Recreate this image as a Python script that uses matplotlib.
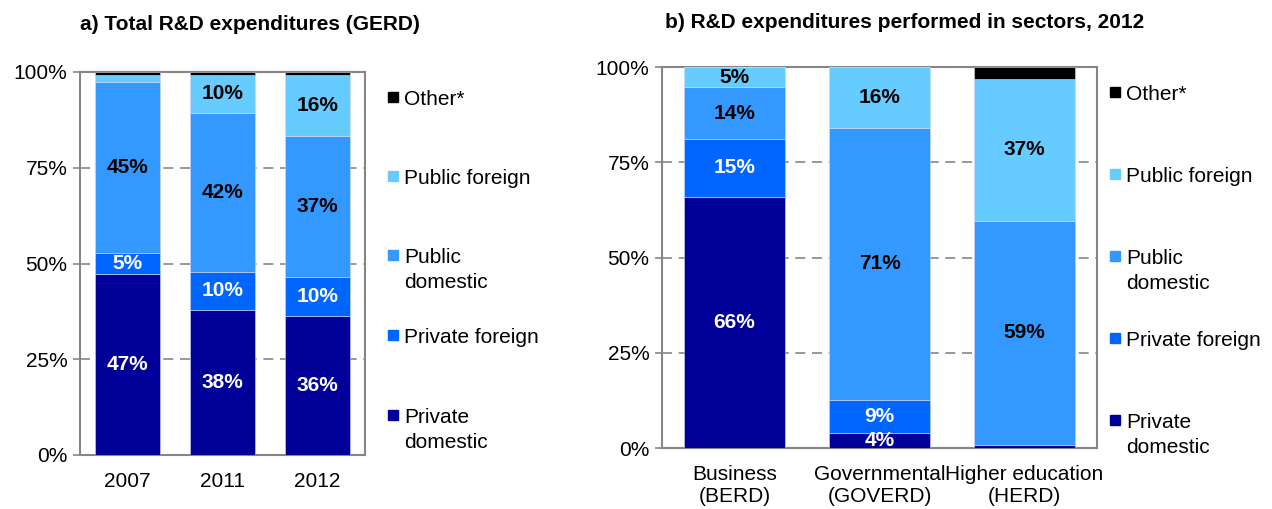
import matplotlib.pyplot as plt
from matplotlib.patches import Rectangle

plt.rcParams['font.family'] = ['Liberation Sans', 'DejaVu Sans']

# a) Total R&D expenditures (GERD), shares in %
years = ['2007', '2011', '2012']
gerd_priv_dom = [47.3, 37.9, 36.3]
gerd_priv_for = [5.4, 9.9, 10.2]
gerd_pub_dom = [44.6, 41.6, 36.7]
gerd_pub_for = [2.0, 9.8, 16.0]
gerd_other = [0.7, 0.8, 0.8]

# b) R&D expenditures performed in sectors, 2012
sectors = ['Business\n(BERD)', 'Governmental\n(GOVERD)', 'Higher education\n(HERD)']
sec_priv_dom = [65.9, 4.0, 0.7]
sec_priv_for = [15.2, 8.6, 0.0]
sec_pub_dom = [13.6, 71.4, 59.0]
sec_pub_for = [5.3, 16.0, 37.2]
sec_other = [0.0, 0.0, 3.1]

legend_names = ['Private\ndomestic', 'Private foreign', 'Public\ndomestic', 'Public foreign', 'Other*']
colors = ['#000099', '#0066ff', '#3399ff', '#66ccff', '#000000']
label_colors = ['white', 'white', 'black', 'black', None]

W, H = 1272, 509
FS = 15
fig = plt.figure(figsize=(W / 100, H / 100), dpi=100)


def px_axes(x0, y0, x1, y1):
    return fig.add_axes([x0 / W, 1 - y1 / H, (x1 - x0) / W, (y1 - y0) / H])


def stacked(ax, cats, series, width):
    x = range(len(cats))
    bottom = [0.0] * len(cats)
    for vals, col, lc in zip(series, colors, label_colors):
        ax.bar(x, vals, width, bottom=bottom, color=col, edgecolor='#d0d8f0',
               linewidth=0.4, zorder=3)
        if lc is not None:
            for i, v in enumerate(vals):
                if v >= 4:
                    ax.text(i, bottom[i] + v / 2, f'{v:.0f}%', ha='center', va='center',
                            color=lc, fontsize=FS, fontweight='bold', zorder=4)
        bottom = [b + v for b, v in zip(bottom, vals)]
    ax.set_xlim(-0.5, 2.5)
    ax.set_ylim(0, 100)
    ax.set_yticks([0, 25, 50, 75, 100])
    ax.set_yticklabels(['0%', '25%', '50%', '75%', '100%'], fontsize=FS)
    ax.set_xticks(list(x))
    ax.set_xticklabels(cats, fontsize=FS, linespacing=1.2)
    ax.tick_params(axis='x', length=0, pad=12)
    ax.tick_params(axis='y', length=5, width=1.2, color='#868686', pad=4)
    for y in [25, 50, 75]:
        ax.axhline(y, color='#868686', linestyle=(0, (6, 4)), linewidth=1.2, zorder=1)
    for s in ax.spines.values():
        s.set_color('#868686')
        s.set_linewidth(1.5)


def legend(x, ys):
    for name, col, y in zip(legend_names, colors, ys):
        fig.add_artist(Rectangle((x / W, 1 - (y + 5) / H), 10 / W, 10 / H,
                                 color=col, transform=fig.transFigure))
        fig.text((x + 16) / W, 1 - (y - 7) / H, name, fontsize=FS, va='top',
                 ha='left', linespacing=1.4)


ax1 = px_axes(80, 72, 365, 455)
stacked(ax1, years, [gerd_priv_dom, gerd_priv_for, gerd_pub_dom, gerd_pub_for, gerd_other], 0.684)
legend(388, [415, 335, 255, 176, 97])
fig.text(80 / W, 1 - 25 / H, 'a) Total R&D expenditures (GERD)', fontsize=FS,
         fontweight='bold', va='center', ha='left')

ax2 = px_axes(662, 67, 1097, 448)
stacked(ax2, sectors, [sec_priv_dom, sec_priv_for, sec_pub_dom, sec_pub_for, sec_other], 0.69)
legend(1110, [420, 338, 256, 174, 92])
fig.text(665 / W, 1 - 22 / H, 'b) R&D expenditures performed in sectors, 2012', fontsize=FS,
         fontweight='bold', va='center', ha='left')

fig.savefig('out.png', dpi=100)
